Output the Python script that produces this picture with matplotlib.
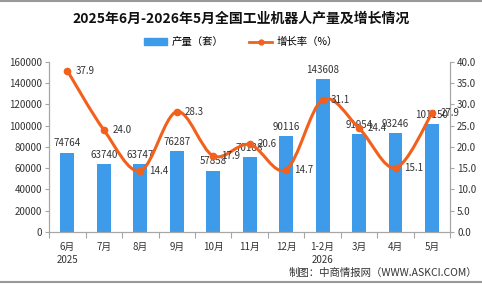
import numpy as np
import matplotlib
matplotlib.use("Agg")
import matplotlib.pyplot as plt
from matplotlib.path import Path
from matplotlib.patches import PathPatch
from matplotlib.lines import Line2D
from matplotlib.patches import Patch

plt.rcParams['font.family'] = ['Noto Sans CJK SC', 'DejaVu Sans']

months = ['6月\n2025', '7月', '8月', '9月', '10月', '11月', '12月',
          '1-2月\n2026', '3月', '4月', '5月']
output = [74764, 63740, 63747, 76287, 57858, 70188, 90116, 143608, 91954, 93246, 101150]
growth = [37.9, 24.0, 14.4, 28.3, 17.9, 20.6, 14.7, 31.1, 24.4, 15.1, 27.9]

blue = '#3d9be9'
orange = '#f2601c'
axis_gray = '#a6a6a6'
text_col = '#333333'

fig = plt.figure(figsize=(4.82, 2.84), dpi=100)
ax = fig.add_axes([0.102, 0.183, 0.832, 0.599])
ax2 = ax.twinx()

x = np.arange(len(months))
ax.bar(x, output, width=0.38, color=blue, zorder=2)
ax.set_xlim(-0.5, len(months) - 0.5)
ax.set_ylim(0, 160000)
ax.set_yticks(np.arange(0, 160001, 20000))
ax2.set_ylim(0, 40)
ax2.set_yticks(np.arange(0, 40.1, 5))
ax2.set_yticklabels(['%.1f' % v for v in np.arange(0, 40.1, 5)])

for a in (ax, ax2):
    a.spines['top'].set_visible(False)
    for s in ('left', 'right', 'bottom'):
        a.spines[s].set_color(axis_gray)
        a.spines[s].set_linewidth(0.8)
    a.tick_params(axis='y', labelsize=7, colors=text_col, length=3,
                  width=0.8, color=axis_gray, pad=2)

ax.set_xticks(x)
ax.set_xticklabels(months, fontsize=7, color=text_col, linespacing=1.35)
ax.tick_params(axis='x', length=0, pad=7)
ax.set_xticks(np.arange(-0.5, len(months), 1), minor=True)
ax.tick_params(axis='x', which='minor', length=4, width=0.8, color=axis_gray)

# smooth growth line (bezier through the data points)
pts = np.column_stack([x, growth]).astype(float)
verts = [tuple(pts[0])]
codes = [Path.MOVETO]
n = len(pts)
for i in range(n - 1):
    p0 = pts[max(i - 1, 0)]
    p1 = pts[i]
    p2 = pts[i + 1]
    p3 = pts[min(i + 2, n - 1)]
    c1 = p1 + (p2 - p0) / 6.0
    c2 = p2 - (p3 - p1) / 6.0
    verts += [tuple(c1), tuple(c2), tuple(p2)]
    codes += [Path.CURVE4] * 3
ax2.add_patch(PathPatch(Path(verts, codes), facecolor='none',
                        edgecolor=orange, lw=2.2, zorder=3))
ax2.plot(x, growth, 'o', color=orange, ms=4.5, zorder=4)

for xi, v in zip(x, output):
    ax.annotate(str(v), (xi, v), xytext=(0, 3), textcoords='offset points',
                ha='center', va='bottom', fontsize=7, color=text_col, zorder=5)
for xi, g in zip(x, growth):
    ax2.annotate('%.1f' % g, (xi, g), xytext=(6, 0), textcoords='offset points',
                 ha='left', va='center', fontsize=7, color=text_col, zorder=5)

fig.text(0.5, 0.935, '2025年6月-2026年5月全国工业机器人产量及增长情况',
         ha='center', va='center', fontsize=10, fontweight='bold', color='#111111')

handles = [Patch(color=blue),
           Line2D([], [], color=orange, lw=2, marker='o', ms=3.5)]
fig.legend(handles, ['产量（套）', '增长率（%）'], loc='center',
           bbox_to_anchor=(0.5, 0.852), ncol=2, frameon=False, fontsize=7.5,
           handlelength=2.2, handleheight=0.6, columnspacing=2.5, handletextpad=0.4)

fig.text(0.99, 0.04, '制图：中商情报网（WWW.ASKCI.COM）', ha='right', va='center',
         fontsize=7.5, color=text_col)

fig.add_artist(Line2D([0, 1], [0.997, 0.997], color='#999999', lw=1.5))
fig.add_artist(Line2D([0, 1], [0.007, 0.007], color='#999999', lw=1.5))

fig.savefig('out.png', dpi=100)
